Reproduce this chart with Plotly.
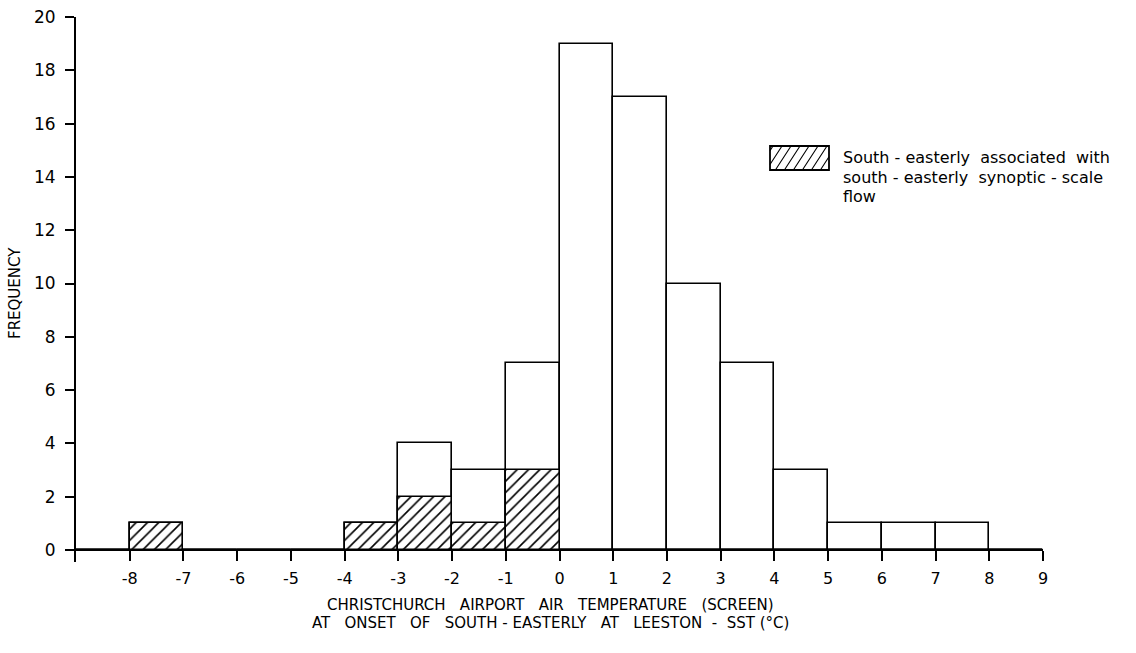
import plotly.graph_objects as go

# ---- data ----
bin_left = [-9, -8, -7, -6, -5, -4, -3, -2, -1, 0, 1, 2, 3, 4, 5, 6, 7, 8]
total_freq = [0, 1, 0, 0, 0, 1, 4, 3, 7, 19, 17, 10, 7, 3, 1, 1, 1, 0]
hatched_freq = [0, 1, 0, 0, 0, 1, 2, 1, 3, 0, 0, 0, 0, 0, 0, 0, 0, 0]
x_ticks = [-8, -7, -6, -5, -4, -3, -2, -1, 0, 1, 2, 3, 4, 5, 6, 7, 8, 9]
y_ticks = [0, 2, 4, 6, 8, 10, 12, 14, 16, 18, 20]
legend_lines = ["South - easterly  associated  with",
                "south - easterly  synoptic - scale",
                "flow"]
x_title_lines = ["CHRISTCHURCH   AIRPORT   AIR   TEMPERATURE   (SCREEN)",
                 "AT   ONSET   OF   SOUTH - EASTERLY   AT   LEESTON  -  SST (°C)"]
y_title = "FREQUENCY"

FONT = "DejaVu Sans"
W, H = 1136, 653
ML, MR, MT, MB = 76, 93, 17, 91
Y_MIN = -0.45

centers = [b + 0.5 for b in bin_left]

fig = go.Figure()
fig.add_trace(go.Bar(
    x=centers, y=total_freq, width=1,
    marker=dict(color="white", opacity=1, line=dict(color="black", width=1.6)),
    opacity=1, showlegend=False, hoverinfo="x+y",
))
fig.add_trace(go.Bar(
    x=centers, y=hatched_freq, width=1,
    marker=dict(color="white", opacity=1, line=dict(color="black", width=1.6),
                pattern=dict(shape="/", fgcolor="black", bgcolor="white",
                             fgopacity=1, size=8, solidity=0.2)),
    opacity=1, showlegend=False, hoverinfo="x+y",
))

# ---- legend swatch drawn manually (pixel -> paper) ----
pw = W - ML - MR
ph = H - MT - MB
def px(x):
    return (x - ML) / pw
def py(y):
    return 1 - (y - MT) / ph

sx0, sx1, sy0, sy1 = 770, 829, 146, 170  # pixel box of swatch
shapes = [dict(type="rect", xref="paper", yref="paper",
               x0=px(sx0), x1=px(sx1), y0=py(sy1), y1=py(sy0),
               line=dict(color="black", width=1.8), fillcolor="white", layer="above")]
step = 9
hh = sy1 - sy0
run = hh * 0.65  # steeper than 45 degrees
c = sx0 - run + 3
path = ""
while c < sx1:
    xa, ya = c, sy1
    xb, yb = c + run, sy0
    slope = hh / run
    if xa < sx0:
        ya = sy1 - (sx0 - xa) * slope
        xa = sx0
    if xb > sx1:
        yb = sy0 + (xb - sx1) * slope
        xb = sx1
    if xb > xa:
        path += f"M{px(xa)},{py(ya)} L{px(xb)},{py(yb)} "
    c += step
shapes.append(dict(type="path", xref="paper", yref="paper", path=path,
                   line=dict(color="black", width=1.1), layer="above"))

annotations = []
for i, line in enumerate(legend_lines):
    annotations.append(dict(xref="paper", yref="paper", x=px(841), y=py(158 + 19 * i),
                            xanchor="left", yanchor="middle", text=line, align="left",
                            showarrow=False, font=dict(family=FONT, size=16, color="black")))
for i, line in enumerate(x_title_lines):
    annotations.append(dict(xref="paper", yref="paper", x=px(550), y=py(605 + 18 * i),
                            xanchor="center", yanchor="middle", text=line, align="center",
                            showarrow=False, font=dict(family=FONT, size=15, color="black")))
annotations.append(dict(xref="paper", yref="paper", x=px(15), y=py(293),
                        xanchor="center", yanchor="middle", text=y_title, textangle=-90,
                        showarrow=False, font=dict(family=FONT, size=15, color="black")))

fig.update_layout(
    width=W, height=H,
    margin=dict(l=ML, r=MR, t=MT, b=MB, autoexpand=False),
    paper_bgcolor="white", plot_bgcolor="white",
    barmode="overlay", bargap=0,
    shapes=shapes, annotations=annotations,
    font=dict(family=FONT, color="black"),
    xaxis=dict(
        range=[bin_left[0], x_ticks[-1]],
        tickmode="array", tickvals=x_ticks, ticktext=[str(v) for v in x_ticks],
        ticks="outside", ticklen=10, tickwidth=1.6, tickcolor="black",
        ticklabelstandoff=4,
        showline=True, linecolor="black", linewidth=2,
        showgrid=False, zeroline=False,
        anchor="free", position=(0 - Y_MIN) / (y_ticks[-1] - Y_MIN),
        tickfont=dict(family=FONT, size=16, color="black"),
        automargin=False,
    ),
    yaxis=dict(
        range=[Y_MIN, y_ticks[-1]],
        tickmode="array", tickvals=y_ticks, ticktext=[str(v) for v in y_ticks],
        ticks="outside", ticklen=9, tickwidth=1.6, tickcolor="black",
        ticklabelstandoff=6,
        showline=True, linecolor="black", linewidth=2,
        showgrid=False, zeroline=False,
        tickfont=dict(family=FONT, size=17, color="black"),
        automargin=False,
    ),
)

fig.write_html("out.html")
